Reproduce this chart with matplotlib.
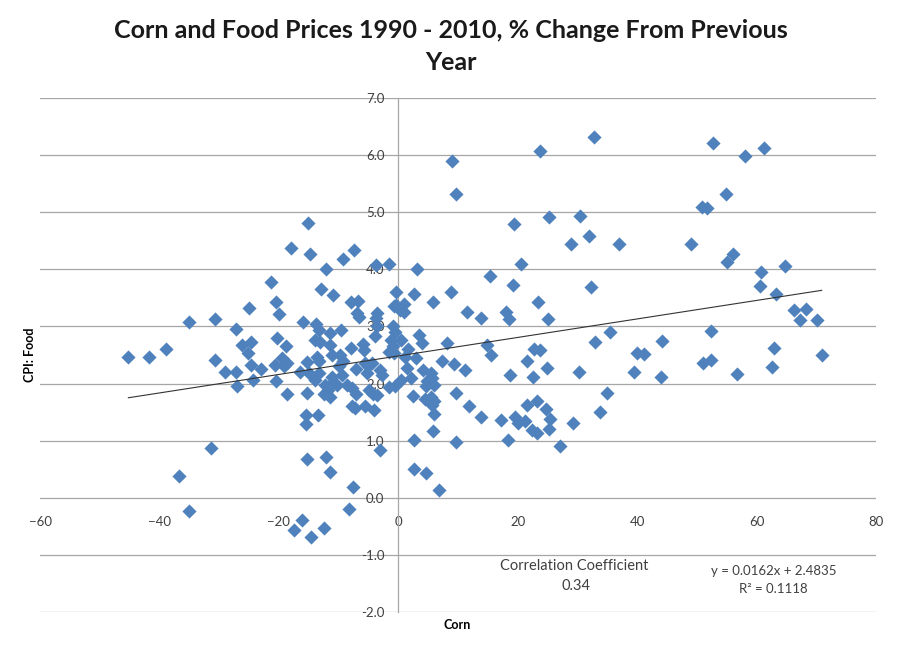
import matplotlib
matplotlib.use("Agg")
import numpy as np
from matplotlib import pyplot as plt
from matplotlib.ticker import FormatStrFormatter

# % change from previous year
corn = [
    -45.2, -41.7, -38.9, -35.0, -36.7, -35.0, -31.3, -30.7, -30.7, -29.1,
    -27.2, -27.2, -27.0, -26.2, -25.0, -24.7, -25.2, -24.7, -23.0, -24.4,
    -21.3, -20.4, -19.9, -20.3, -18.8, -19.5, -20.6, -19.2, -18.6, -20.4,
    -18.6, -18.0, -17.5, -16.1, -16.0,
    -15.1, -14.8, -16.4, -15.0, -15.3, -13.6, -13.9, -13.3, -15.3, -15.5,
    -15.5, -15.3, -14.6, -12.4, -12.1, -11.4, -13.4, -13.3, -13.1, -13.9,
    -13.8, -12.9, -12.1, -13.3,
    -11.5, -11.5, -9.6, -11.1, -9.7, -9.2, -10.0, -9.4, -11.1, -12.2,
    -11.7, -12.5, -11.5, -11.1, -10.3, -10.9, -9.2, -8.0,
    -7.4, -3.7, -7.9, -6.8, -6.9, -6.6, -3.6, -3.7, -3.6, -3.9,
    -5.9, -5.7, -5.5, -5.2, -5.0, -4.4, -7.0, -4.9, -4.2, -3.5,
    -8.6, -7.7, -7.8, -7.3, -7.1, -5.5, -4.0, -7.6, -8.2, -3.1,
    -3.1, -2.7,
    -1.6, -0.3, -0.8, -0.3, -0.9, -0.5, -1.3, -0.9, -1.5, -0.7,
    -1.6, -0.5,
    0.9, 0.3, 1.0, 2.6, 3.1, 0.5, 1.7, 1.2, 1.5, 2.1,
    0.4, 3.4, 4.0, 2.9, 2.5, 2.6, 2.7, 4.6, 6.0, 4.5,
    5.4, 6.0, 5.6, 6.0, 4.2, 5.4, 5.7, 4.8,
    5.8, 8.9, 8.2, 7.3, 9.4, 11.2, 11.5, 13.9, 14.8, 15.5,
    9.6, 11.9, 13.9, 5.8, 9.6, 6.9, 4.6, 9.0, 9.7,
    15.4, 19.2, 20.6, 19.3, 23.8, 25.2, 23.4, 18.0, 18.6, 25.0,
    22.8, 23.8, 21.6, 24.9, 18.7, 22.6, 23.3, 21.5, 24.8, 25.4,
    25.3, 17.2, 19.6, 20.1, 21.3, 22.4, 23.2, 18.3, 27.0,
    32.7, 30.5, 31.9, 28.9, 36.9, 32.3, 35.5, 33.0, 44.1, 30.3,
    39.9, 41.2, 39.4, 44.0, 34.9, 33.8, 29.3,
    52.7, 61.3, 58.0, 54.8, 50.8, 51.7, 49.0, 56.0, 55.1, 64.8,
    60.7, 60.6, 63.3, 66.3, 68.3, 67.2, 70.1, 52.4, 63.0, 51.0,
    52.4, 70.9, 62.6, 56.7,
]
food = [
    2.47, 2.46, 2.61, 3.08, 0.39, -0.24, 0.87, 3.13, 2.42, 2.21,
    2.95, 2.21, 1.95, 2.67, 3.33, 2.72, 2.54, 2.33, 2.26, 2.07,
    3.77, 3.43, 3.22, 2.80, 2.65, 2.45, 2.33, 2.30, 2.36, 2.05,
    1.82, 4.38, -0.57, -0.39, 3.08,
    4.81, 4.27, 2.21, 2.18, 2.38, 2.47, 2.06, 2.18, 1.83, 1.45,
    1.29, 0.68, -0.68, -0.53, 0.71, 0.46, 1.45, 2.94, 2.72, 2.77,
    3.05, 3.65, 4.01, 2.39,
    2.88, 2.68, 2.94, 2.50, 2.50, 2.40, 2.30, 2.15, 2.12, 1.98,
    1.89, 1.82, 1.76, 2.01, 1.98, 3.55, 4.18, 2.62,
    4.34, 4.08, 3.42, 3.44, 3.23, 3.17, 3.23, 3.15, 3.00, 2.84,
    2.70, 2.59, 2.36, 2.18, 2.30, 2.36, 2.26, 1.89, 1.81, 1.80,
    1.97, 1.93, 1.61, 1.57, 1.82, 1.60, 1.53, 0.19, -0.20, 0.83,
    2.24, 2.15,
    4.10, 3.61, 3.35, 3.38, 3.00, 2.91, 2.77, 2.65, 2.56, 2.53,
    1.94, 1.96,
    3.40, 3.29, 3.26, 3.56, 4.01, 2.77, 2.60, 2.47, 2.27, 2.10,
    2.07, 2.85, 2.71, 2.44, 1.79, 1.02, 0.51, 1.95, 1.98, 1.73,
    1.76, 1.69, 1.62, 1.47, 2.24, 2.18, 2.10, 2.05,
    3.42, 3.60, 2.71, 2.40, 2.35, 2.23, 3.25, 3.15, 2.68, 2.50,
    1.83, 1.61, 1.42, 1.17, 0.97, 0.13, 0.43, 5.90, 5.32,
    3.89, 3.72, 4.09, 4.80, 6.07, 4.92, 3.42, 3.26, 3.13, 3.13,
    2.60, 2.58, 2.40, 2.27, 2.15, 2.12, 1.70, 1.62, 1.55, 1.38,
    1.20, 1.37, 1.42, 1.31, 1.35, 1.19, 1.13, 1.02, 0.90,
    6.32, 4.93, 4.58, 4.44, 4.45, 3.69, 2.90, 2.73, 2.74, 2.21,
    2.54, 2.52, 2.21, 2.11, 1.83, 1.51, 1.31,
    6.22, 6.12, 5.99, 5.32, 5.09, 5.07, 4.44, 4.26, 4.13, 4.06,
    3.95, 3.70, 3.57, 3.29, 3.30, 3.11, 3.11, 2.92, 2.62, 2.36,
    2.42, 2.50, 2.29, 2.17,
]

# linear trendline as printed on the chart
slope = 0.0162
intercept = 2.4835
r_squared = 0.1118
correlation = 0.34

plt.rcParams['font.family'] = ['Lato', 'DejaVu Sans']

fig = plt.figure(figsize=(9, 6.6), dpi=100)
ax = fig.add_axes([40 / 900, 1 - 612 / 660, 836 / 900, 514 / 660])

grid_color = '#A6A6A6'
text_color = '#404040'

ax.scatter(corn, food, marker='D', s=52, color='#4F81BD', linewidths=0, zorder=3)

xs = np.array([min(corn), max(corn)])
ax.plot(xs, slope * xs + intercept, color='#333333', lw=0.8, zorder=4)

ax.set_xlim(-60, 80)
ax.set_ylim(-2, 7)
ax.set_xticks(range(-60, 81, 20))
ax.set_yticks(np.arange(-2, 7.01, 1))
ax.yaxis.set_major_formatter(FormatStrFormatter('%.1f'))

ax.grid(axis='y', color=grid_color, lw=0.9)
ax.set_axisbelow(True)
for side in ['top', 'right', 'bottom']:
    ax.spines[side].set_visible(False)
ax.spines['left'].set_position(('data', 0))
ax.spines['left'].set_color(grid_color)
ax.spines['left'].set_linewidth(0.9)
ax.spines['bottom'].set_position(('data', 0))

ax.tick_params(axis='both', length=0, labelsize=9.5, labelcolor=text_color)
ax.tick_params(axis='x', pad=13)
ax.tick_params(axis='y', pad=10)

title_kw = dict(ha='center', va='center', fontsize=18, fontweight='bold',
                color='#1a1a1a')
fig.text(451 / 900, 1 - 30 / 660,
         'Corn and Food Prices 1990 - 2010, % Change From Previous', **title_kw)
fig.text(451 / 900, 1 - 62 / 660, 'Year', **title_kw)

fig.text(30 / 900, 1 - 355 / 660, 'CPI: Food', rotation=90, ha='center',
         va='center', fontsize=9, fontweight='bold')
fig.text(457 / 900, 1 - 625 / 660, 'Corn', ha='center', va='center',
         fontsize=9, fontweight='bold')

ax.text(29.5, -1.19, 'Correlation Coefficient', ha='center', va='center',
        fontsize=10.5, color=text_color)
ax.text(29.8, -1.54, f'{correlation:.2f}', ha='center', va='center',
        fontsize=10.5, color=text_color)
ax.text(62.8, -1.29, f'y = {slope}x + {intercept}', ha='center', va='center',
        fontsize=9.5, color=text_color)
ax.text(62.8, -1.59, f'R² = {r_squared}', ha='center', va='center',
        fontsize=9.5, color=text_color)

fig.savefig('out.png', dpi=100, facecolor='white')
